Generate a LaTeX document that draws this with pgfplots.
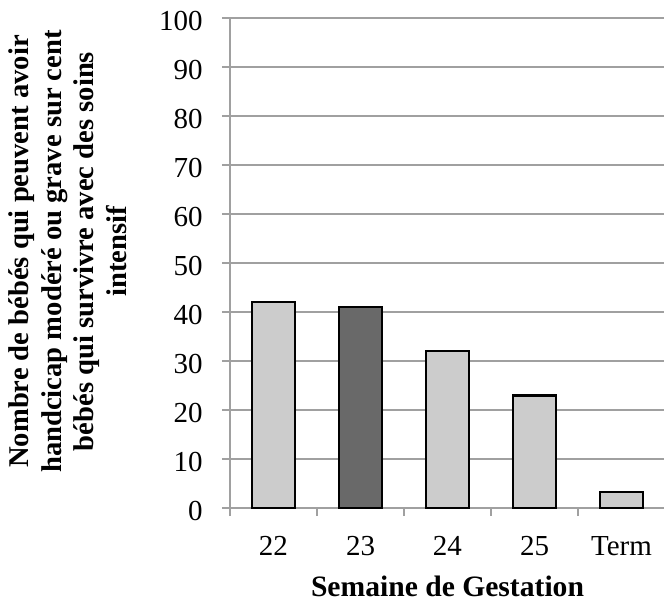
\documentclass[border=0pt]{standalone}
\usepackage{fontspec}
\setmainfont{Liberation Serif}
\usepackage{pgfplots}
\pgfplotsset{compat=1.18}
\definecolor{lightbar}{RGB}{204,204,204}
\definecolor{darkbar}{RGB}{105,105,105}
\definecolor{gridgray}{RGB}{160,160,160}
\begin{document}
\begin{tikzpicture}
\path[use as bounding box] (0,0) rectangle (332pt,301pt);
\begin{axis}[
  at={(115pt,47pt)}, anchor=south west,
  scale only axis, width=217.5pt, height=245pt,
  clip=false,
  xmin=-0.5, xmax=4.5, ymin=0, ymax=100,
  ytick={0,10,...,100},
  xtick={-0.5,0.5,...,4.5}, xticklabels={},
  extra x ticks={0,1,2,3,4},
  extra x tick labels={22,23,24,25,Term},
  extra x tick style={major tick length=0pt, grid=none},
  tick align=outside, major tick length=4pt,
  axis lines*=left,
  axis line style={gridgray, line width=1pt},
  tick style={gridgray, line width=1pt},
  ymajorgrids, grid style={gridgray, line width=1pt},
  /pgf/number format/assume math mode=true,
  ticklabel style={font=\fontsize{14.5}{17}\selectfont},
  yticklabel style={anchor=east, inner sep=0pt, xshift=-9.5pt, yshift=-1.5pt},
  xticklabel style={anchor=base, inner sep=0pt, yshift=-23.8pt},
  ybar, bar width=0.5, bar shift=0pt,
  xlabel={Semaine de Gestation},
  xlabel style={at={(axis description cs:0.5,-0.1604)}, anchor=center, inner sep=0pt, font=\fontsize{14.8}{17}\selectfont\bfseries},
  ylabel={Nombre de bébés qui peuvent avoir\\handcicap modéré ou grave sur cent\\bébés qui survivre avec des soins\\intensif},
  ylabel style={at={(axis description cs:-0.2368,0.5235)}, anchor=south, inner sep=0pt, align=center, font=\fontsize{14.3}{16.3}\selectfont\bfseries},
]
\addplot[fill=lightbar, draw=black, line width=1.2pt] coordinates {(0,42) (2,32) (3,23) (4,3.3)};
\addplot[fill=darkbar, draw=black, line width=1.2pt] coordinates {(1,41)};
\end{axis}
\end{tikzpicture}
\end{document}
